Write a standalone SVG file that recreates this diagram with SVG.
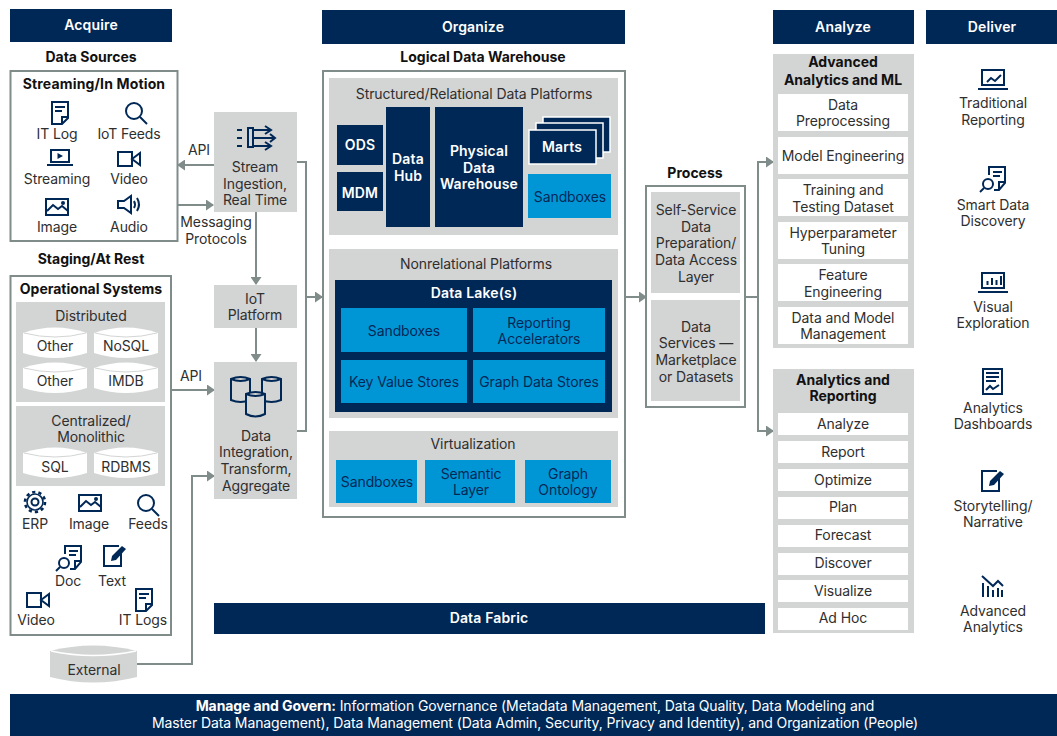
<svg xmlns="http://www.w3.org/2000/svg" width="1057" height="736" viewBox="0 0 1057 736">
<style>
text{font-family:"Inter","Liberation Sans",sans-serif;font-size:14px;fill:#2f2f2f;text-anchor:middle;letter-spacing:-.1px}
.b{font-weight:700;fill:#111;letter-spacing:0}
.w{fill:#fff}
.wb{fill:#fff;font-weight:600;letter-spacing:.15px}
.dk{fill:#002856}
.gy{fill:#d3d4d4}
.wh{fill:#fff}
.bl{fill:#0096d6}
.bt{fill:#002856}
.fr{fill:#fff;stroke:#7f8c8a;stroke-width:2}
.ln{fill:none;stroke:#7f8c8a;stroke-width:2}
.ic{fill:none;stroke:#002856;stroke-width:2}
.if{fill:#002856}
.cyl{fill:#fff}
.cl{fill:none;stroke:#d3d4d4}
</style>
<defs>
<marker id="ah" markerWidth="8" markerHeight="11" refX="7" refY="5.500" orient="auto" markerUnits="userSpaceOnUse"><path d="M0 0L8 5.500L0 11z" fill="#7f8c8a"/></marker>
<g id="i-doc"><path class="ic" d="M1 1H17V17L11 23H1z"/><path class="ic" d="M17 16H11V23M4 6H14M4 10H11" stroke-width="1.6"/></g>
<g id="i-search"><circle class="ic" cx="9" cy="9" r="8"/><path class="ic" d="M15 15L22 22" stroke-width="2.6"/></g>
<g id="i-video"><path class="ic" d="M1 1H15V15H1zM15 8L23 2V14z"/></g>
<g id="i-image"><path class="ic" d="M1 1H23V17H1z"/><path class="ic" d="M2 13L8 7L13 11L17 8L23 13" stroke-width="1.6"/><circle class="if" cx="18" cy="5" r="2"/></g>
<g id="i-audio"><path class="ic" d="M1 6H7L14 1V18L7 13H1z"/><path class="ic" d="M17 6Q19 9.500 17 13M20 3Q24 9.500 20 16" stroke-width="1.8"/></g>
<g id="i-gear"><circle class="ic" cx="11" cy="11" r="3.500"/><circle cx="11" cy="11" r="8" fill="none" stroke="#002856" stroke-width="1.600"/><circle cx="11" cy="11" r="10" fill="none" stroke="#002856" stroke-width="2.600" stroke-dasharray="3.200 3.080"/></g>
<g id="i-docs"><path class="ic" d="M8 9V1H24V17L18 24H13"/><path class="ic" d="M24 16H18V24M12 6H21M12 10H19" stroke-width="1.6"/><circle class="ic" cx="7" cy="18" r="5"/><path class="ic" d="M3 22L-1 26" stroke-width="2.4"/></g>
<g id="i-note"><path class="ic" d="M16 1H1V21H18V8"/><path class="if" d="M8 16L9 11L19 1L23 4L13 15z"/></g>
<g id="i-lap"><path class="ic" d="M5 1H27V16H5z"/><path class="ic" d="M1 20H31" stroke-width="2.400"/></g>
</defs>

<g id="headers">
<g id="h-acquire"><rect class="dk" x="10" y="9" width="162" height="33"/><text class="wb" x="91" y="30" font-weight="700">Acquire</text></g>
<g id="h-organize"><rect class="dk" x="322" y="10" width="303" height="34"/><text class="wb" x="473" y="32">Organize</text></g>
<g id="h-analyze"><rect class="dk" x="773" y="10" width="141" height="34"/><text class="wb" x="843" y="32">Analyze</text></g>
<g id="h-deliver"><rect class="dk" x="926" y="10" width="131" height="34"/><text class="wb" x="992" y="32">Deliver</text></g>
</g>

<g id="connectors">
<path class="ln" marker-end="url(#ah)" d="M214 165H178"/>
<path class="ln" marker-end="url(#ah)" d="M177 205H213"/>
<path class="ln" marker-end="url(#ah)" d="M256 212V284"/>
<path class="ln" marker-end="url(#ah)" d="M256 328V361"/>
<path class="ln" marker-end="url(#ah)" d="M171 390H214"/>
<path class="ln" marker-end="url(#ah)" d="M134 664H192V476H214"/>
<path class="ln" d="M297 162H306V431H297"/>
<path class="ln" marker-end="url(#ah)" d="M306 297H322"/>
<path class="ln" marker-end="url(#ah)" d="M625 297H646"/>
<path class="ln" d="M745 297H758"/>
<path class="ln" marker-end="url(#ah)" d="M758 297V162H773"/>
<path class="ln" marker-end="url(#ah)" d="M758 297V431H773"/>
</g>

<g id="labels">
<text x="199" y="155">API</text>
<text x="216" y="227">Messaging</text>
<text x="216" y="244">Protocols</text>
<text x="191" y="381">API</text>
</g>

<text class="b" x="91" y="62">Data Sources</text>
<g id="streaming">
<rect class="fr" x="10.500" y="71" width="167" height="170"/>
<text class="b" x="94" y="89" style="letter-spacing:.15px">Streaming/In Motion</text>
<use href="#i-doc" x="51" y="101"/><text x="57" y="139">IT Log</text>
<use href="#i-search" x="125" y="102"/><text x="129" y="139">IoT Feeds</text>
<path class="ic" d="M51 150H69V162H51z" stroke-width="1.800"/><path class="ic" d="M47 165H73"/><path class="if" d="M57.500 153L63 156L57.500 159z"/><text x="57" y="184">Streaming</text>
<use href="#i-video" x="117" y="151"/><text x="129" y="184">Video</text>
<use href="#i-image" x="45" y="198"/><text x="57" y="232">Image</text>
<use href="#i-audio" x="117" y="195"/><text x="129" y="232">Audio</text>
</g>

<g id="stream-ingestion">
<rect class="gy" x="214" y="112" width="83" height="100"/>
<path class="ic" d="M237 130H242M237 138H242M237 146H242M248 128H253V147H248zM253 130H270M253 138H275M253 146H270M265 126L271 130L265 134M270 134L275 138L270 142M265 142L271 146L265 150"/>
<text x="255" y="172">Stream</text><text x="255" y="189">Ingestion,</text><text x="255" y="205">Real Time</text>
</g>
<g id="iot-platform"><rect class="gy" x="214" y="285" width="83" height="43"/><text x="255" y="304">IoT</text><text x="255" y="320">Platform</text></g>
<g id="data-integration">
<rect class="gy" x="214" y="362" width="83" height="137"/>
<g fill="#d3d4d4" stroke="#002856" stroke-width="2">
<path d="M231 379Q240.500 375 250 379V400Q240.500 404 231 400z"/><path d="M231 379Q240.500 383 250 379" fill="none"/>
<path d="M262 379Q271.500 375 281 379V400Q271.500 404 262 400z"/><path d="M262 379Q271.500 383 281 379" fill="none"/>
<path d="M246 394Q255.500 390 265 394V414Q255.500 419 246 414z"/><path d="M246 394Q255.500 398 265 394" fill="none"/>
</g>
<text x="256" y="441">Data</text><text x="256" y="457">Integration,</text><text x="256" y="474">Transform,</text><text x="256" y="491">Aggregate</text>
</g>

<text class="b" x="91" y="264">Staging/At Rest</text>
<g id="operational">
<rect class="fr" x="10.500" y="276" width="160.500" height="359"/>
<text class="b" x="91" y="294">Operational Systems</text>
<rect class="gy" x="16" y="302" width="149" height="100"/>
<text x="91" y="321">Distributed</text>
<g class="cyl">
<path d="M23 333Q55 322 87 333V353Q55 363 23 353z"/>
<path d="M94 333Q126 322 158 333V353Q126 363 94 353z"/>
<path d="M23 368Q55 357 87 368V388Q55 398 23 388z"/>
<path d="M94 368Q126 357 158 368V388Q126 398 94 388z"/>
</g>
<path class="cl" d="M24 333Q55 341 86 333M95 333Q126 341 157 333M24 368Q55 376 86 368M95 368Q126 376 157 368"/>
<text x="55" y="351">Other</text><text x="126" y="351">NoSQL</text><text x="55" y="386">Other</text><text x="126" y="386">IMDB</text>
<rect class="gy" x="16" y="406" width="149" height="80"/>
<text x="91" y="426">Centralized/</text><text x="91" y="442">Monolithic</text>
<g class="cyl">
<path d="M23 453Q55 442 87 453V473Q55 483 23 473z"/>
<path d="M94 453Q126 442 158 453V473Q126 483 94 473z"/>
</g>
<path class="cl" d="M24 453Q55 461 86 453M95 453Q126 461 157 453"/>
<text x="55" y="472">SQL</text><text x="126" y="472">RDBMS</text>
<use href="#i-gear" x="24" y="491"/><text x="35" y="529">ERP</text>
<use href="#i-image" x="78" y="494"/><text x="89" y="529">Image</text>
<use href="#i-search" x="137" y="494"/><text x="148" y="529">Feeds</text>
<use href="#i-docs" x="57" y="545"/><text x="68" y="586">Doc</text>
<use href="#i-note" x="103" y="545"/><text x="112" y="586">Text</text>
<use href="#i-video" x="26" y="592"/><text x="36" y="625">Video</text>
<use href="#i-doc" x="135" y="588"/><text x="143" y="625">IT Logs</text>
</g>
<g id="external">
<path class="gy" d="M50 651Q93 640 137 651V677Q93 688 50 677z"/>
<path d="M51 651Q93 660 136 651" fill="none" stroke="#fff" stroke-width="1.500"/>
<text x="94" y="675">External</text>
</g>

<text class="b" x="483" y="62">Logical Data Warehouse</text>
<g id="logical-dw">
<rect class="fr" x="323" y="71" width="302" height="446"/>
<g id="structured">
<rect class="gy" x="329" y="78" width="289" height="157"/>
<text x="474" y="99">Structured/Relational Data Platforms</text>
<g id="ods"><rect class="dk" x="337" y="125" width="46" height="40"/><text class="wb" x="360" y="150">ODS</text></g>
<g id="mdm"><rect class="dk" x="337" y="172" width="46" height="39"/><text class="wb" x="360" y="198">MDM</text></g>
<g id="data-hub"><rect class="dk" x="386" y="107" width="44" height="120"/><text class="wb" x="408" y="164">Data</text><text class="wb" x="408" y="181">Hub</text></g>
<g id="physical-dw"><rect class="dk" x="435" y="107" width="88" height="120"/><text class="wb" x="479" y="156">Physical</text><text class="wb" x="479" y="173">Data</text><text class="wb" x="479" y="189">Warehouse</text></g>
<g id="marts">
<rect class="dk" x="543" y="117" width="67" height="35" stroke="#fff" stroke-width="1.500"/>
<rect class="dk" x="536" y="123" width="67" height="35" stroke="#fff" stroke-width="1.500"/>
<rect class="dk" x="529" y="130" width="67" height="34" stroke="#fff" stroke-width="1.500"/>
<text class="wb" x="562" y="152">Marts</text>
</g>
<g id="sandboxes-1"><rect class="bl" x="528" y="174" width="83" height="44"/><text class="bt" x="570" y="202">Sandboxes</text></g>
</g>
<g id="nonrelational">
<rect class="gy" x="329" y="249" width="289" height="169"/>
<text x="476" y="269">Nonrelational Platforms</text>
<rect class="dk" x="335" y="280" width="277" height="132"/>
<text class="wb" x="474" y="298">Data Lake(s)</text>
<g id="sandboxes-2"><rect class="bl" x="341" y="308" width="126" height="44"/><text class="bt" x="404" y="336">Sandboxes</text></g>
<g id="reporting-acc"><rect class="bl" x="473" y="308" width="132" height="44"/><text class="bt" x="539" y="328">Reporting</text><text class="bt" x="539" y="344">Accelerators</text></g>
<g id="key-value"><rect class="bl" x="341" y="360" width="126" height="43"/><text class="bt" x="404" y="387">Key Value Stores</text></g>
<g id="graph-stores"><rect class="bl" x="473" y="360" width="132" height="43"/><text class="bt" x="539" y="387">Graph Data Stores</text></g>
</g>
<g id="virtualization">
<rect class="gy" x="329" y="431" width="289" height="76"/>
<text x="473" y="449">Virtualization</text>
<g id="sandboxes-3"><rect class="bl" x="336" y="460" width="81" height="43"/><text class="bt" x="377" y="487">Sandboxes</text></g>
<g id="semantic"><rect class="bl" x="425" y="460" width="90" height="43"/><text class="bt" x="471" y="479">Semantic</text><text class="bt" x="471" y="495">Layer</text></g>
<g id="ontology"><rect class="bl" x="525" y="460" width="86" height="43"/><text class="bt" x="568" y="479">Graph</text><text class="bt" x="568" y="495">Ontology</text></g>
</g>
</g>

<text class="b" x="695" y="178">Process</text>
<g id="process">
<rect class="fr" x="646" y="186" width="99" height="221"/>
<g id="self-service"><rect class="gy" x="651" y="192" width="89" height="101"/><text x="696" y="215">Self-Service</text><text x="696" y="232">Data</text><text x="696" y="248">Preparation/</text><text x="696" y="265">Data Access</text><text x="696" y="282">Layer</text></g>
<g id="data-services"><rect class="gy" x="651" y="300" width="89" height="101"/><text x="696" y="332">Data</text><text x="696" y="348">Services —</text><text x="696" y="365">Marketplace</text><text x="696" y="382">or Datasets</text></g>
</g>

<g id="advanced-analytics">
<rect class="gy" x="773" y="54" width="141" height="294"/>
<text class="b" x="843" y="67">Advanced</text><text class="b" x="843" y="85">Analytics and ML</text>
<rect class="wh" x="778" y="94" width="130" height="37"/><text x="843" y="110">Data</text><text x="843" y="126">Preprocessing</text>
<rect class="wh" x="778" y="137" width="130" height="37"/><text x="843" y="161">Model Engineering</text>
<rect class="wh" x="778" y="179" width="130" height="37"/><text x="843" y="195">Training and</text><text x="843" y="212">Testing Dataset</text>
<rect class="wh" x="778" y="222" width="130" height="37"/><text x="843" y="238">Hyperparameter</text><text x="843" y="254">Tuning</text>
<rect class="wh" x="778" y="264" width="130" height="37"/><text x="843" y="280">Feature</text><text x="843" y="297">Engineering</text>
<rect class="wh" x="778" y="307" width="130" height="37"/><text x="843" y="323">Data and Model</text><text x="843" y="339">Management</text>
</g>
<g id="analytics-reporting">
<rect class="gy" x="773" y="369" width="141" height="264"/>
<text class="b" x="843" y="385">Analytics and</text><text class="b" x="843" y="401">Reporting</text>
<rect class="wh" x="778" y="413" width="130" height="22"/><text x="843" y="429">Analyze</text>
<rect class="wh" x="778" y="441" width="130" height="22"/><text x="843" y="457">Report</text>
<rect class="wh" x="778" y="469" width="130" height="22"/><text x="843" y="485">Optimize</text>
<rect class="wh" x="778" y="497" width="130" height="22"/><text x="843" y="512">Plan</text>
<rect class="wh" x="778" y="525" width="130" height="22"/><text x="843" y="540">Forecast</text>
<rect class="wh" x="778" y="553" width="130" height="22"/><text x="843" y="568">Discover</text>
<rect class="wh" x="778" y="580" width="130" height="22"/><text x="843" y="596">Visualize</text>
<rect class="wh" x="778" y="608" width="130" height="22"/><text x="843" y="623">Ad Hoc</text>
</g>

<g id="deliver">
<g id="d-traditional"><use href="#i-lap" x="977" y="69"/><path class="ic" d="M987 82L991 78L995 81L1001 75"/><text x="993" y="108">Traditional</text><text x="993" y="125">Reporting</text></g>
<g id="d-smart"><use href="#i-docs" x="981" y="166"/><text x="993" y="210">Smart Data</text><text x="993" y="226">Discovery</text></g>
<g id="d-visual"><use href="#i-lap" x="977" y="272"/><path class="ic" d="M987.500 285V281M992 285V278M996.500 285V280M1001 285V276" stroke-width="2.500"/><text x="993" y="312">Visual</text><text x="993" y="328">Exploration</text></g>
<g id="d-dashboards"><rect class="ic" x="983" y="369" width="19" height="25"/><path class="ic" d="M986 373H999M986 377H999M986 381H996M986 390L990 386L993 389L999 385" stroke-width="1.600"/><text x="993" y="413">Analytics</text><text x="993" y="429">Dashboards</text></g>
<g id="d-storytelling"><use href="#i-note" x="981" y="470"/><text x="993" y="511">Storytelling/</text><text x="993" y="527">Narrative</text></g>
<g id="d-advanced"><path class="ic" d="M982 576L993 586L998 581L1003 586"/><path class="ic" d="M983 583V597M988 586V597M993 590V597M998 588V597M1002 590V597"/><text x="993" y="616">Advanced</text><text x="993" y="632">Analytics</text></g>
</g>

<g id="data-fabric"><rect class="dk" x="214" y="603" width="551" height="31"/><text class="wb" x="489" y="623">Data Fabric</text></g>
<g id="manage">
<rect class="dk" x="10" y="694" width="1047" height="42"/>
<text class="w" x="535" y="711"><tspan font-weight="700">Manage and Govern:</tspan> Information Governance (Metadata Management, Data Quality, Data Modeling and</text>
<text class="w" x="535" y="728">Master Data Management), Data Management (Data Admin, Security, Privacy and Identity), and Organization (People)</text>
</g>
</svg>
